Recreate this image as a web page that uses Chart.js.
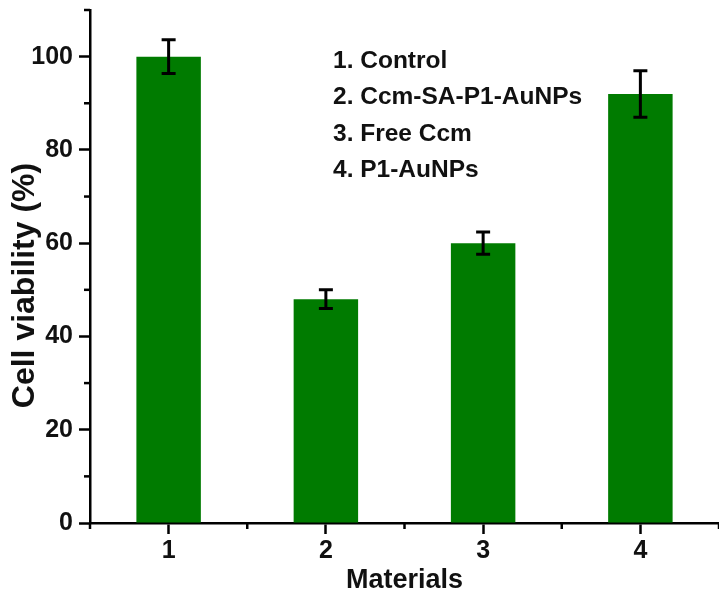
<!DOCTYPE html>
<html>
<head>
<meta charset="utf-8">
<script src="https://cdn.jsdelivr.net/npm/chart.js@4.4.1/dist/chart.umd.min.js"></script>
<style>
  html, body { margin: 0; padding: 0; background: #fff; overflow: hidden; }
  #wrap { width: 719px; height: 594px; }
</style>
</head>
<body>
<div id="wrap"><canvas id="myChart"></canvas></div>
<script>
const materials = ["1", "2", "3", "4"];
const viability = [100, 48, 60, 92];
const viabilityErr = [3.6, 2.0, 2.4, 5.0];
const legendLines = ["1. Control", "2. Ccm-SA-P1-AuNPs", "3. Free Ccm", "4. P1-AuNPs"];
const yTicks = [0, 20, 40, 60, 80, 100];
const yTitle = "Cell viability (%)";

const FONT = "'Liberation Sans', Arial, sans-serif";
const barGreen = "rgb(0, 123, 0)";

// error bars, minor ticks, y title and the numbered list of materials
const extras = {
  id: "extras",
  afterDatasetsDraw(chart) {
    const ctx = chart.ctx;
    const x = chart.scales.x, y = chart.scales.y;
    const area = chart.chartArea;
    ctx.save();
    ctx.strokeStyle = "#000";
    ctx.lineWidth = 3;
    viability.forEach((v, i) => {
      const px = x.getPixelForValue(i);
      const top = y.getPixelForValue(v + viabilityErr[i]);
      const bot = y.getPixelForValue(v - viabilityErr[i]);
      ctx.beginPath();
      ctx.moveTo(px, top); ctx.lineTo(px, bot);
      ctx.moveTo(px - 7, top); ctx.lineTo(px + 7, top);
      ctx.moveTo(px - 7, bot); ctx.lineTo(px + 7, bot);
      ctx.stroke();
    });

    ctx.lineWidth = 2.5;
    for (let v = 10; v <= 110; v += 20) {
      const py = y.getPixelForValue(v);
      ctx.beginPath();
      ctx.moveTo(area.left, py); ctx.lineTo(area.left - 6, py);
      ctx.stroke();
    }
    for (let i = -0.5; i < materials.length; i += 1) {
      const px = x.getPixelForValue(i);
      ctx.beginPath();
      ctx.moveTo(px, area.bottom); ctx.lineTo(px, area.bottom + 6);
      ctx.stroke();
    }

    ctx.fillStyle = "#111";
    ctx.font = "bold 24.5px " + FONT;
    ctx.textBaseline = "alphabetic";
    ctx.textAlign = "left";
    legendLines.forEach((t, i) => {
      ctx.fillText(t, area.left + 243, area.top + 58 + i * 36.3);
    });

    ctx.font = "bold 32px " + FONT;
    ctx.textAlign = "center";
    ctx.textBaseline = "middle";
    ctx.translate(25, (area.top + area.bottom) / 2 + 19);
    ctx.rotate(-Math.PI / 2);
    ctx.fillText(yTitle, 0, 0);
    ctx.restore();
  }
};

new Chart(document.getElementById("myChart"), {
  type: "bar",
  data: {
    labels: materials,
    datasets: [{
      data: viability,
      backgroundColor: barGreen,
      borderWidth: 0,
      categoryPercentage: 1,
      barPercentage: 0.41
    }]
  },
  options: {
    responsive: true,
    maintainAspectRatio: false,
    animation: false,
    devicePixelRatio: 1,
    layout: { padding: { top: 10, right: 0, left: 0, bottom: 0 } },
    plugins: { legend: { display: false }, tooltip: { enabled: false } },
    scales: {
      x: {
        offset: true,
        grid: { display: true, drawOnChartArea: false, drawTicks: true, tickLength: 11, tickWidth: 2.5, tickColor: "#000", offset: false },
        border: { color: "#000", width: 2.5 },
        ticks: { color: "#111", font: { family: FONT, size: 25, weight: "bold" }, padding: 2, maxRotation: 0 },
        title: { display: true, text: "Materials", color: "#111", font: { family: FONT, size: 27, weight: "bold", lineHeight: 1 }, padding: { top: 0, bottom: 0 } },
        afterFit(s) { s.height = 71; s.paddingLeft = 0; s.paddingRight = 0; }
      },
      y: {
        min: 0,
        max: 110,
        afterBuildTicks(s) { s.ticks = yTicks.map(v => ({ value: v })); },
        grid: { display: true, drawOnChartArea: false, drawTicks: true, tickLength: 11, tickWidth: 2.5, tickColor: "#000" },
        border: { color: "#000", width: 2.5 },
        ticks: { color: "#111", font: { family: FONT, size: 25, weight: "bold" }, padding: 6 },
        afterFit(s) { s.width = 90; s.paddingTop = 0; s.paddingBottom = 0; }
      }
    }
  },
  plugins: [extras]
});
</script>
</body>
</html>
